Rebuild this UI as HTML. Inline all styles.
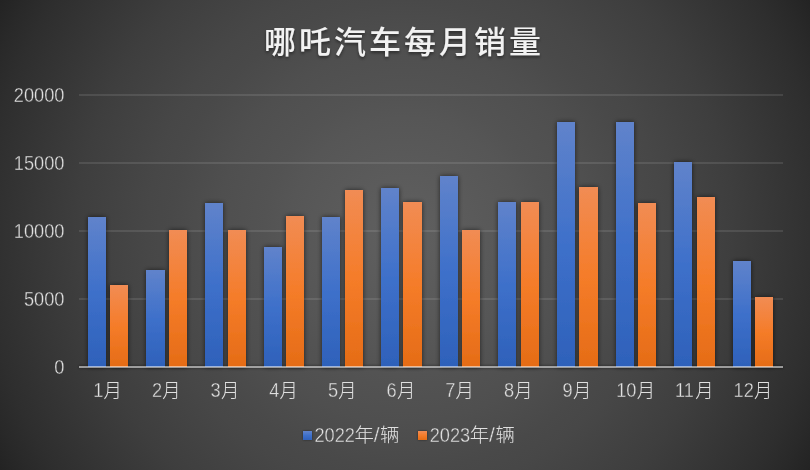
<!DOCTYPE html>
<html lang="zh-CN">
<head>
<meta charset="utf-8">
<title>哪吒汽车每月销量</title>
<style>
html,body{margin:0;padding:0;background:#262626;}
body{width:810px;height:470px;overflow:hidden;}
svg{display:block;}
text{font-family:"Liberation Sans","Noto Sans CJK SC",sans-serif;}
.ax{font-size:20px;fill:#e0e0e0;font-weight:300;}
.title{font-size:32px;fill:#f2f2f2;font-weight:500;letter-spacing:3px;}
</style>
</head>
<body>
<svg width="810" height="470" viewBox="0 0 810 470">
<defs>
<radialGradient id="bg" gradientUnits="userSpaceOnUse" cx="405" cy="235" r="468.3">
<stop offset="0.00" stop-color="#606060"/>
<stop offset="0.05" stop-color="#5e5e5e"/>
<stop offset="0.10" stop-color="#5c5c5c"/>
<stop offset="0.15" stop-color="#5a5a5a"/>
<stop offset="0.20" stop-color="#585858"/>
<stop offset="0.25" stop-color="#565656"/>
<stop offset="0.30" stop-color="#535353"/>
<stop offset="0.35" stop-color="#515151"/>
<stop offset="0.40" stop-color="#4f4f4f"/>
<stop offset="0.45" stop-color="#4c4c4c"/>
<stop offset="0.50" stop-color="#494949"/>
<stop offset="0.55" stop-color="#474747"/>
<stop offset="0.60" stop-color="#444444"/>
<stop offset="0.65" stop-color="#414141"/>
<stop offset="0.70" stop-color="#3e3e3e"/>
<stop offset="0.75" stop-color="#3a3a3a"/>
<stop offset="0.80" stop-color="#363636"/>
<stop offset="0.85" stop-color="#323232"/>
<stop offset="0.90" stop-color="#2e2e2e"/>
<stop offset="0.95" stop-color="#292929"/>
<stop offset="1.00" stop-color="#232323"/>
</radialGradient>
<linearGradient id="gb" x1="0" y1="0" x2="0" y2="1">
<stop offset="0" stop-color="#6083cb"/>
<stop offset="0.5" stop-color="#3e70ca"/>
<stop offset="1" stop-color="#2e61ba"/>
</linearGradient>
<linearGradient id="go" x1="0" y1="0" x2="0" y2="1">
<stop offset="0" stop-color="#f18c54"/>
<stop offset="0.5" stop-color="#f57c29"/>
<stop offset="1" stop-color="#e56c16"/>
</linearGradient>
<filter id="sh" x="-50%" y="-10%" width="200%" height="120%">
<feDropShadow dx="0" dy="0" stdDeviation="2.4" flood-color="#000" flood-opacity="0.6"/>
</filter>
<filter id="lsh" x="-50%" y="-50%" width="200%" height="200%">
<feDropShadow dx="0" dy="0" stdDeviation="1.2" flood-color="#000" flood-opacity="0.5"/>
</filter>
<filter id="ab" x="-2%" y="-400%" width="104%" height="900%">
<feGaussianBlur stdDeviation="1.6"/>
</filter>
<filter id="tsh" x="-5%" y="-20%" width="110%" height="150%">
<feDropShadow dx="0" dy="2" stdDeviation="1.5" flood-color="#000" flood-opacity="0.45"/>
</filter>
</defs>
<rect width="810" height="470" fill="url(#bg)"/>
<g fill="#ffffff" fill-opacity="0.10">
<rect x="79" y="94" width="704" height="2"/>
<rect x="79" y="162" width="704" height="2"/>
<rect x="79" y="230" width="704" height="2"/>
<rect x="79" y="298" width="704" height="2"/>
</g>
<text class="ax" transform="translate(64.40,102.00) scale(0.91,1)" text-anchor="end" stroke="#343434" stroke-width="0.35">20000</text>
<text class="ax" transform="translate(64.40,170.00) scale(0.91,1)" text-anchor="end" stroke="#373737" stroke-width="0.35">15000</text>
<text class="ax" transform="translate(64.40,238.00) scale(0.91,1)" text-anchor="end" stroke="#383838" stroke-width="0.35">10000</text>
<text class="ax" transform="translate(64.40,306.00) scale(0.91,1)" text-anchor="end" stroke="#383838" stroke-width="0.35">5000</text>
<text class="ax" transform="translate(64.40,374.00) scale(0.91,1)" text-anchor="end" stroke="#373737" stroke-width="0.35">0</text>
<rect x="79" y="366" width="704" height="2" fill="#000" fill-opacity="0.55" filter="url(#ab)"/>
<g filter="url(#sh)">
<rect x="88" y="217" width="18" height="150" fill="url(#gb)"/><rect x="110" y="285" width="18" height="82" fill="url(#go)"/>
<rect x="146" y="270" width="19" height="97" fill="url(#gb)"/><rect x="169" y="230" width="18" height="137" fill="url(#go)"/>
<rect x="205" y="203" width="18" height="164" fill="url(#gb)"/><rect x="228" y="230" width="18" height="137" fill="url(#go)"/>
<rect x="264" y="247" width="18" height="120" fill="url(#gb)"/><rect x="286" y="216" width="18" height="151" fill="url(#go)"/>
<rect x="322" y="217" width="18" height="150" fill="url(#gb)"/><rect x="345" y="190" width="18" height="177" fill="url(#go)"/>
<rect x="381" y="188" width="18" height="179" fill="url(#gb)"/><rect x="403" y="202" width="19" height="165" fill="url(#go)"/>
<rect x="440" y="176" width="18" height="191" fill="url(#gb)"/><rect x="462" y="230" width="18" height="137" fill="url(#go)"/>
<rect x="498" y="202" width="18" height="165" fill="url(#gb)"/><rect x="521" y="202" width="18" height="165" fill="url(#go)"/>
<rect x="557" y="122" width="18" height="245" fill="url(#gb)"/><rect x="579" y="187" width="19" height="180" fill="url(#go)"/>
<rect x="616" y="122" width="18" height="245" fill="url(#gb)"/><rect x="638" y="203" width="18" height="164" fill="url(#go)"/>
<rect x="674" y="162" width="18" height="205" fill="url(#gb)"/><rect x="697" y="197" width="18" height="170" fill="url(#go)"/>
<rect x="733" y="261" width="18" height="106" fill="url(#gb)"/><rect x="755" y="297" width="18" height="70" fill="url(#go)"/>
</g>
<rect x="79" y="366" width="704" height="2" fill="#ffffff" fill-opacity="0.53"/>
<text class="ax" transform="translate(93.27,397.20) scale(0.91,1)" text-anchor="start" stroke="#3b3b3b" stroke-width="0.35">1</text>
<text class="ax" transform="translate(103.59,398.10) scale(0.92,1)" text-anchor="start">月</text>
<text class="ax" transform="translate(151.94,397.20) scale(0.91,1)" text-anchor="start" stroke="#424242" stroke-width="0.35">2</text>
<text class="ax" transform="translate(162.26,398.10) scale(0.92,1)" text-anchor="start">月</text>
<text class="ax" transform="translate(210.61,397.20) scale(0.91,1)" text-anchor="start" stroke="#484848" stroke-width="0.35">3</text>
<text class="ax" transform="translate(220.93,398.10) scale(0.92,1)" text-anchor="start">月</text>
<text class="ax" transform="translate(269.27,397.20) scale(0.91,1)" text-anchor="start" stroke="#4d4d4d" stroke-width="0.35">4</text>
<text class="ax" transform="translate(279.60,398.10) scale(0.92,1)" text-anchor="start">月</text>
<text class="ax" transform="translate(327.94,397.20) scale(0.91,1)" text-anchor="start" stroke="#505050" stroke-width="0.35">5</text>
<text class="ax" transform="translate(338.26,398.10) scale(0.92,1)" text-anchor="start">月</text>
<text class="ax" transform="translate(386.61,397.20) scale(0.91,1)" text-anchor="start" stroke="#525252" stroke-width="0.35">6</text>
<text class="ax" transform="translate(396.93,398.10) scale(0.92,1)" text-anchor="start">月</text>
<text class="ax" transform="translate(445.27,397.20) scale(0.91,1)" text-anchor="start" stroke="#515151" stroke-width="0.35">7</text>
<text class="ax" transform="translate(455.60,398.10) scale(0.92,1)" text-anchor="start">月</text>
<text class="ax" transform="translate(503.94,397.20) scale(0.91,1)" text-anchor="start" stroke="#4f4f4f" stroke-width="0.35">8</text>
<text class="ax" transform="translate(514.26,398.10) scale(0.92,1)" text-anchor="start">月</text>
<text class="ax" transform="translate(562.61,397.20) scale(0.91,1)" text-anchor="start" stroke="#4a4a4a" stroke-width="0.35">9</text>
<text class="ax" transform="translate(572.93,398.10) scale(0.92,1)" text-anchor="start">月</text>
<text class="ax" transform="translate(616.21,397.20) scale(0.91,1)" text-anchor="start" stroke="#454545" stroke-width="0.35">10</text>
<text class="ax" transform="translate(636.66,398.10) scale(0.92,1)" text-anchor="start">月</text>
<text class="ax" transform="translate(674.88,397.20) scale(0.91,1)" text-anchor="start" stroke="#3f3f3f" stroke-width="0.35">11</text>
<text class="ax" transform="translate(695.33,398.10) scale(0.92,1)" text-anchor="start">月</text>
<text class="ax" transform="translate(733.55,397.20) scale(0.91,1)" text-anchor="start" stroke="#373737" stroke-width="0.35">12</text>
<text class="ax" transform="translate(753.99,398.10) scale(0.92,1)" text-anchor="start">月</text>
<rect x="303" y="431" width="9" height="9" fill="url(#gb)" filter="url(#lsh)"/>
<text class="ax" transform="translate(314.40,442.00) scale(0.91,1)" text-anchor="start" stroke="#4c4c4c" stroke-width="0.35">2022</text>
<text class="ax" transform="translate(354.40,442.30) scale(0.97,0.95)" text-anchor="start">年</text>
<text class="ax" transform="translate(373.70,442.00) scale(1.05,1)" text-anchor="start" stroke="#4d4d4d" stroke-width="0.35">/</text>
<text class="ax" transform="translate(380.10,442.30) scale(0.97,0.95)" text-anchor="start">辆</text>
<rect x="418" y="431" width="9" height="9" fill="url(#go)" filter="url(#lsh)"/>
<text class="ax" transform="translate(429.70,442.00) scale(0.91,1)" text-anchor="start" stroke="#4d4d4d" stroke-width="0.35">2023</text>
<text class="ax" transform="translate(469.70,442.30) scale(0.97,0.95)" text-anchor="start">年</text>
<text class="ax" transform="translate(489.00,442.00) scale(1.05,1)" text-anchor="start" stroke="#4b4b4b" stroke-width="0.35">/</text>
<text class="ax" transform="translate(495.40,442.30) scale(0.97,0.95)" text-anchor="start">辆</text>
<text class="title" transform="translate(404,53.2) scale(1,0.97)" text-anchor="middle" filter="url(#tsh)">哪吒汽车每月销量</text>
</svg>
</body>
</html>
